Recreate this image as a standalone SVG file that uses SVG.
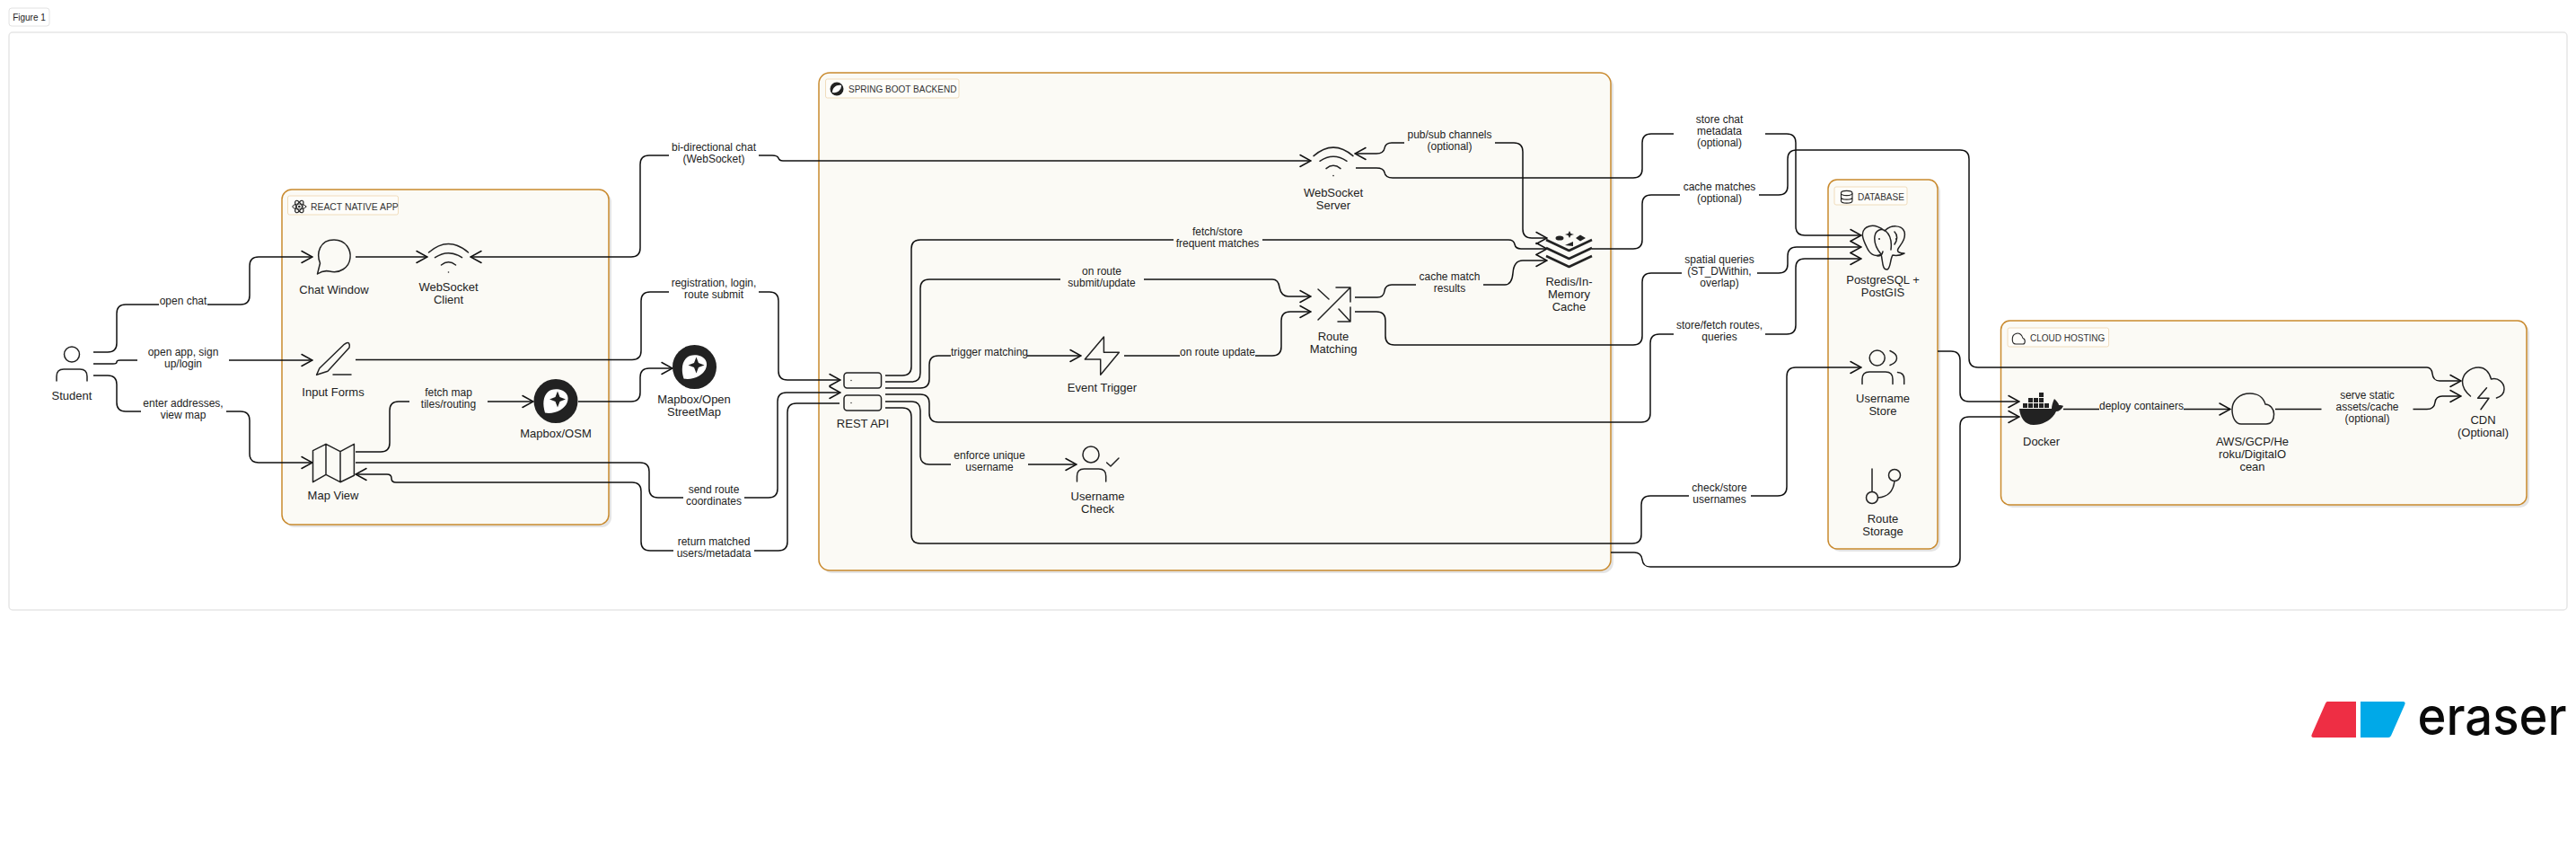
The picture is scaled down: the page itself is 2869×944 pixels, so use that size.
<svg xmlns="http://www.w3.org/2000/svg" width="2869" height="944" viewBox="0 0 2869 944">
<style>
text{font-family:"Liberation Sans",Arial,sans-serif;fill:#222}
.n{font-size:13px;text-anchor:middle}
.e{font-size:12px;text-anchor:middle}
.t{font-size:10px;fill:#333}
.grp{fill:#fbfaf5;stroke:#c98a2e;stroke-width:1.5}
.sh{fill:#e4e4e4}
.lab{fill:#fefdf9;stroke:#f0dcbc;stroke-width:1}
.c{fill:none;stroke:#111;stroke-width:1.5;marker-end:url(#arr)}
.i{fill:none;stroke:#222;stroke-width:1.5;stroke-linecap:round;stroke-linejoin:round}
.d{fill:#222;stroke:none}
</style>
<defs>
<marker id="arr" viewBox="-14 -8 15 16" refX="0" refY="0" markerWidth="15" markerHeight="16" markerUnits="userSpaceOnUse" orient="auto-start-reverse">
<path d="M-12 -6.5L0 0L-12 6.5" fill="none" stroke="#111" stroke-width="1.5" stroke-linecap="round"/>
</marker>
<g id="wifi"><path class="i" d="M-22 0Q0 -19 22 0M-15 5.700Q0 -4.300 15 5.700M-8 14Q0 7.400 8 14"/><circle class="d" cx="0" cy="22" r="0.8"/></g>
<g id="mapbox"><circle class="d" r="24.5"/><path d="M-12 13C-15 3 -14 -5 -9 -10C-4 -15 8 -14 12 -8C16 -2 12 6 5 10C0 13 -7 14 -12 13Z" fill="#fff"/><path class="d" d="M2 -11L4.5 -4.5L11 -2L4.5 .5L2 7L-.5 .5L-7 -2L-.5 -4.5Z"/></g>
</defs>
<rect width="2869" height="944" fill="#fff"/>
<g id="figure-label"><rect x="10" y="9" width="45" height="20" rx="3" fill="#fff" stroke="#e2e2e2"/><text x="32.5" y="22.5" style="font-size:10px;text-anchor:middle">Figure 1</text></g>
<rect id="frame" x="10" y="36" width="2849" height="643" rx="4" fill="#fff" stroke="#e6e6e6" stroke-width="1.5"/>

<g id="group-react"><rect class="sh" x="317" y="214" width="364" height="373" rx="11"/><rect class="grp" x="314" y="211" width="364" height="373" rx="11"/><rect class="lab" x="320.5" y="218" width="123" height="21" rx="2"/>
<g class="i"><ellipse cx="333.3" cy="230" rx="7.5" ry="3" style="stroke-width:1"/><ellipse cx="333.3" cy="230" rx="7.5" ry="3" transform="rotate(60 333.3 230)" style="stroke-width:1"/><ellipse cx="333.3" cy="230" rx="7.5" ry="3" transform="rotate(120 333.3 230)" style="stroke-width:1"/></g><circle class="d" cx="333.3" cy="230" r="1.3"/>
<text class="t" x="346" y="233.5" style="font-size:10.4px">REACT NATIVE APP</text></g>
<g id="group-spring"><rect class="sh" x="915" y="84" width="882" height="554" rx="12"/><rect class="grp" x="912" y="81" width="882" height="554" rx="12"/><rect class="lab" x="919.5" y="88" width="148.5" height="21" rx="2"/>
<circle class="d" cx="932" cy="99" r="7.5"/><path d="M927 103C927 97 932 94 937 95C937 100 933 104 927 103Z" fill="#fff"/>
<text class="t" x="945" y="102.5">SPRING BOOT BACKEND</text></g>
<g id="group-database"><rect class="sh" x="2039" y="203" width="122" height="411" rx="10"/><rect class="grp" x="2036" y="200" width="122" height="411" rx="10"/><rect class="lab" x="2043" y="208" width="81" height="20" rx="2"/>
<path class="i" style="stroke-width:1.1" d="M2050.5 215.5V223.5C2050.5 227 2063 227 2063 223.5V215.5M2050.5 219.5C2050.5 223 2063 223 2063 219.5"/><ellipse class="i" style="stroke-width:1.1" cx="2056.7" cy="215" rx="6.3" ry="2.6"/>
<text class="t" x="2069" y="222.5">DATABASE</text></g>
<g id="group-cloud"><rect class="sh" x="2231.5" y="360" width="585.5" height="205" rx="10"/><rect class="grp" x="2228.5" y="357" width="585.5" height="205" rx="10"/><rect class="lab" x="2236" y="365" width="112.6" height="21" rx="2"/>
<path class="i" style="stroke-width:1.1" d="M2245 383H2253C2256 383 2256 377 2253 376.500C2252 372 2248 370 2245 371.500C2240 373 2240 383 2245 383Z"/>
<text class="t" x="2261" y="379.5">CLOUD HOSTING</text></g>

<g id="connectors">
<path class="c" d="M104 392H120Q130 392 130 382V349Q130 339 140 339H177M231 339H268Q278 339 278 329V296Q278 286 288 286H348"/>
<path class="c" d="M104 405H126Q130 405 130 403Q130 401 134 401H153M255 401H348"/>
<path class="c" d="M104 418H120Q130 418 130 428V448Q130 458 140 458H157M252 458H268Q278 458 278 468V505Q278 515 288 515H348"/>
<path class="c" d="M396 286H476"/>
<path class="c" style="marker-start:url(#arr)" d="M524 286H703Q713 286 713 276V183Q713 173 723 173H745M845 173H860Q866 173 867 176Q868 179 872 179H1460"/>
<path class="c" d="M396 400.500H704Q714 400.500 714 390.500V335Q714 325 724 325H745M845 325H857Q867 325 867 335V413Q867 423 877 423H936"/>
<path class="c" d="M396 503H424Q434 503 434 493V457Q434 447 444 447H456M543 447H594"/>
<path class="c" d="M644 447H703Q713 447 713 437V420Q713 410 723 410H749"/>
<path class="c" d="M396 515H713Q723 515 723 525V544Q723 554 733 554H761M829 554H856Q866 554 866 544V447Q866 437 876 437H936"/>
<path class="c" d="M935 449H887Q877 449 877 459V603Q877 613 867 613H840M750 613H724Q714 613 714 603V547Q714 537 704 537H441Q436 537 436 532.500Q436 528 431 528H396"/>
<path class="c" d="M986 418H1005Q1015 418 1015 408V277Q1015 267 1025 267H1307M1406 267H1680Q1686 267 1687 272Q1688 277 1694 277H1723"/>
<path class="c" d="M986 425H1015Q1025 425 1025 415V321Q1025 311 1035 311H1181M1274 311H1417Q1424 311 1425 320Q1427 330 1435 330H1460"/>
<path class="c" d="M986 432H1025Q1035 432 1035 422V406Q1035 396 1045 396H1059M1144 396H1204"/>
<path class="c" d="M986 439H1025Q1035 439 1035 449V460Q1035 470 1045 470H1828Q1838 470 1838 460V382Q1838 372 1848 372H1864M1966 372H1990Q2000 372 2000 362V298Q2000 288 2010 288H2073"/>
<path class="c" d="M986 447H1015Q1025 447 1025 457V507Q1025 517 1035 517H1059M1145 517H1199"/>
<path class="c" d="M986 454H1005Q1015 454 1015 464V595Q1015 605 1025 605H1818Q1828 605 1828 595V562Q1828 552 1838 552H1881M1950 552H1980Q1990 552 1990 542V419Q1990 409 2000 409H2073"/>
<path class="c" d="M1252 396H1314M1398 396H1417Q1427 396 1427 386V357Q1427 347 1437 347H1460"/>
<path class="c" d="M1509 331H1534Q1541 331 1542 324Q1543 317 1550 317H1577M1652 317H1676Q1684 317 1685 304Q1686 290 1696 290H1723"/>
<path class="c" d="M1509 347H1533Q1543 347 1543 357V374Q1543 384 1553 384H1819Q1829 384 1829 374V314Q1829 304 1839 304H1873M1957 304H1981Q1991 304 1991 294V285Q1991 275 2001 275H2073"/>
<path class="c" style="marker-start:url(#arr)" d="M1509 171H1533Q1541 171 1542 165Q1543 159 1550 159H1564M1665 159H1686Q1696 159 1696 169V255Q1696 265 1706 265H1723"/>
<path class="c" d="M1510 187H1533Q1541 187 1542 192Q1543 198 1551 198H1819Q1829 198 1829 188V159Q1829 149 1839 149H1864M1966 149H1990Q2000 149 2000 159V252Q2000 262 2010 262H2073"/>
<path class="c" d="M1773 277H1819Q1829 277 1829 267V227Q1829 217 1839 217H1871M1959 217H1981Q1991 217 1991 207V177Q1991 167 2001 167H2183Q2193 167 2193 177V399Q2193 409 2203 409H2703Q2708 409 2709 416Q2710 424 2717 424H2741"/>
<path class="c" d="M2158 391H2173Q2183 391 2183 401V437Q2183 447 2193 447H2249"/>
<path class="c" d="M1794 615H1820Q1828 615 1829 623Q1830 631 1838 631H2173Q2183 631 2183 621V474Q2183 464 2193 464H2249"/>
<path class="c" d="M2298 455.500H2338M2432 455.500H2484"/>
<path class="c" d="M2534 455.500H2585.500M2687.500 455.500H2703Q2711 455.500 2712 448Q2713 441 2720 441H2741"/>
<g id="edge-labels">
<text class="e" x="204" y="339">open chat</text>
<text class="e" y="395.500"><tspan x="204">open app, sign</tspan><tspan x="204" dy="13">up/login</tspan></text>
<text class="e" y="452.500"><tspan x="204">enter addresses,</tspan><tspan x="204" dy="13">view map</tspan></text>
<text class="e" y="440.500"><tspan x="499.500">fetch map</tspan><tspan x="499.500" dy="13">tiles/routing</tspan></text>
<text class="e" y="167.500"><tspan x="795">bi-directional chat</tspan><tspan x="795" dy="13">(WebSocket)</tspan></text>
<text class="e" y="318.500"><tspan x="795">registration, login,</tspan><tspan x="795" dy="13">route submit</tspan></text>
<text class="e" y="548.500"><tspan x="795">send route</tspan><tspan x="795" dy="13">coordinates</tspan></text>
<text class="e" y="606.500"><tspan x="795">return matched</tspan><tspan x="795" dy="13">users/metadata</tspan></text>
<text class="e" y="261.500"><tspan x="1356">fetch/store</tspan><tspan x="1356" dy="13">frequent matches</tspan></text>
<text class="e" y="305.500"><tspan x="1227">on route</tspan><tspan x="1227" dy="13">submit/update</tspan></text>
<text class="e" x="1102" y="396">trigger matching</text>
<text class="e" y="510.500"><tspan x="1102">enforce unique</tspan><tspan x="1102" dy="13">username</tspan></text>
<text class="e" x="1356" y="396">on route update</text>
<text class="e" y="311.500"><tspan x="1614.500">cache match</tspan><tspan x="1614.500" dy="13">results</tspan></text>
<text class="e" y="153.500"><tspan x="1614.500">pub/sub channels</tspan><tspan x="1614.500" dy="13">(optional)</tspan></text>
<text class="e" y="136.500"><tspan x="1915">store chat</tspan><tspan x="1915" dy="13">metadata</tspan><tspan x="1915" dy="13">(optional)</tspan></text>
<text class="e" y="211.500"><tspan x="1915">cache matches</tspan><tspan x="1915" dy="13">(optional)</tspan></text>
<text class="e" y="292.500"><tspan x="1915">spatial queries</tspan><tspan x="1915" dy="13">(ST_DWithin,</tspan><tspan x="1915" dy="13">overlap)</tspan></text>
<text class="e" y="365.500"><tspan x="1915">store/fetch routes,</tspan><tspan x="1915" dy="13">queries</tspan></text>
<text class="e" y="546.500"><tspan x="1915">check/store</tspan><tspan x="1915" dy="13">usernames</tspan></text>
<text class="e" x="2385" y="456">deploy containers</text>
<text class="e" y="443.500"><tspan x="2636.500">serve static</tspan><tspan x="2636.500" dy="13">assets/cache</tspan><tspan x="2636.500" dy="13">(optional)</tspan></text>
</g>
</g>

<g id="student"><circle class="i" cx="80" cy="394.500" r="8.500"/><path class="i" d="M63 424V419Q63 411 71 411H89Q97 411 97 419V424"/><text class="n" x="80" y="444.500">Student</text></g>
<g id="chat-window"><path class="i" d="M353.500 305L356.500 293C352 282 356 267 372 267C386 267 391 279 390 287C389 298 378 305 367 302Q360 300.500 353.500 305Z"/><text class="n" x="372" y="327">Chat Window</text></g>
<g id="websocket-client"><use href="#wifi" x="499.500" y="281"/><text class="n" y="323.500"><tspan x="499.500">WebSocket</tspan><tspan x="499.500" dy="14">Client</tspan></text></g>
<g id="input-forms"><path class="i" d="M352.600 417.300L355.800 410L383.400 383.300Q387 380.500 388.500 382Q390 384 389 387L365 413.300ZM371 417H391"/><text class="n" x="371" y="440.500">Input Forms</text></g>
<g id="mapbox-osm"><use href="#mapbox" x="619" y="446.500"/><text class="n" x="619" y="486.500">Mapbox/OSM</text></g>
<g id="map-view"><path class="i" d="M348.500 501.700L363 494.300L379 502.700L394.400 494.300V529.300L379 536.700L363 528.300L348.500 536.700ZM363 494.300V528.300M379 502.700V536.700"/><text class="n" x="371" y="555.500">Map View</text></g>
<g id="mapbox-open"><use href="#mapbox" x="773.500" y="408.500"/><text class="n" y="448.500"><tspan x="773">Mapbox/Open</tspan><tspan x="773" dy="14">StreetMap</tspan></text></g>
<g id="rest-api"><rect class="i" x="940" y="415" width="41.500" height="17" rx="3.500"/><rect class="i" x="940" y="440" width="41.500" height="17" rx="3.500"/><circle class="d" cx="948" cy="423.500" r=".7"/><circle class="d" cx="948" cy="448.500" r=".7"/><text class="n" x="961" y="475.500">REST API</text></g>
<g id="event-trigger"><path class="i" d="M1229.400 375L1208.300 400H1225.700V417.300L1246.400 392.300H1229.400Z"/><text class="n" x="1227.500" y="435.500">Event Trigger</text></g>
<g id="username-check"><circle class="i" cx="1215" cy="506" r="9"/><path class="i" d="M1199.500 536V530Q1199.500 522 1207.500 522H1223.700Q1231.700 522 1231.700 530V536M1232.600 515L1237 519L1246 510"/><text class="n" y="556.500"><tspan x="1222.500">Username</tspan><tspan x="1222.500" dy="14">Check</tspan></text></g>
<g id="websocket-server"><use href="#wifi" x="1485" y="173.600"/><text class="n" y="218.500"><tspan x="1485">WebSocket</tspan><tspan x="1485" dy="14">Server</tspan></text></g>
<g id="route-matching"><path class="i" d="M1468 356L1504 320M1488 320H1504V336M1468 322L1480 333M1491 344L1504 358M1504 342V358H1490"/><text class="n" y="378.500"><tspan x="1485">Route</tspan><tspan x="1485" dy="14">Matching</tspan></text></g>
<g id="redis"><path class="i" style="stroke-width:2.500;stroke-linecap:butt" d="M1722 267L1747.500 279L1773 267M1722 276L1747.500 288L1773 276M1722 285L1747.500 297L1773 285"/><ellipse class="d" cx="1737" cy="265" rx="4.500" ry="2.600"/><path class="d" d="M1748 257L1749.500 260L1753 261L1749.500 262L1748 265L1746.500 262L1743 261L1746.500 260ZM1755 265L1760 261.500L1766 265L1760 268.500ZM1743 273L1752 269V274Z"/><text class="n" y="317.500"><tspan x="1747.500">Redis/In-</tspan><tspan x="1747.500" dy="14">Memory</tspan><tspan x="1747.500" dy="14">Cache</tspan></text></g>
<g id="postgres"><path class="i" d="M2096 283C2087 287 2082 282 2079 275C2075 267 2071 258 2079 253C2086 249 2094 253 2099 257C2106 250 2118 250 2121 258C2123 266 2117 272 2114 277C2112 281 2117 282 2121 282C2117 284 2112 285 2108 284C2105 288 2106 298 2102 300C2096 301 2097 290 2095 283C2090 277 2087 270 2088 263C2089 256 2095 254 2100 257C2106 262 2107 270 2106 278M2110 258C2114 262 2113 268 2110 272M2091 285Q2096 285 2097 280"/><circle class="d" cx="2093" cy="266" r="1"/><circle class="d" cx="2112" cy="266" r="1"/><text class="n" y="315.500"><tspan x="2097">PostgreSQL +</tspan><tspan x="2097" dy="14">PostGIS</tspan></text></g>
<g id="username-store"><circle class="i" cx="2090.700" cy="398.500" r="8.500"/><path class="i" d="M2105 390.500Q2113 394 2112.500 399Q2112 404 2105 406.500M2074 427.500V422Q2074 414 2082 414H2100Q2108 414 2108 422V427.500M2113.500 414.500Q2120.700 415 2120.700 422V427.500"/><text class="n" y="447.500"><tspan x="2097">Username</tspan><tspan x="2097" dy="14">Store</tspan></text></g>
<g id="route-storage"><circle class="i" cx="2085" cy="554" r="6.500"/><circle class="i" cx="2110" cy="529" r="6.500"/><path class="i" d="M2085 522V547.500M2091.500 554Q2108 553 2110 535.500"/><text class="n" y="581.500"><tspan x="2097">Route</tspan><tspan x="2097" dy="14">Storage</tspan></text></g>
<g id="docker"><path class="d" d="M2249 455H2285C2285 452 2286 448 2288 444C2291 447 2293 449 2293 451C2295 451 2297 451 2298 452C2296 456 2293 458 2290 458C2286 467 2276 473 2265 473C2255 473 2250 465 2249 455Z"/><path class="d" d="M2253 449h5v5h-5zM2259 449h5v5h-5zM2265 449h5v5h-5zM2271 449h5v5h-5zM2277 449h5v5h-5zM2259 443h5v5h-5zM2265 443h5v5h-5zM2271 443h5v5h-5zM2271 437h5v5h-5z"/><text class="n" x="2273.600" y="495.500">Docker</text></g>
<g id="cloud-provider"><path class="i" d="M2496 472H2524C2530 472 2532.600 467 2532.600 461C2532.600 455 2528 450 2523 450C2521 443 2515 438 2506 438C2494 438 2486 446 2486 456C2486 465 2490 472 2496 472Z"/><text class="n" y="495.500"><tspan x="2508.500">AWS/GCP/He</tspan><tspan x="2508.500" dy="14">roku/DigitalO</tspan><tspan x="2508.500" dy="14">cean</tspan></text></g>
<g id="cdn"><path class="i" d="M2751.500 441C2745.500 436 2742.500 431 2742.500 425C2742.500 416 2751.500 409 2760.500 409C2768.500 409 2772.500 415 2774.500 422C2782.500 420 2789 426 2789 433C2789 437 2786.500 441 2780.500 443M2769.500 431.700L2759.600 443.300H2772L2763 455.700"/><text class="n" y="472"><tspan x="2765.500">CDN</tspan><tspan x="2765.500" dy="14">(Optional)</tspan></text></g>
<g id="eraser-logo"><path d="M2592 781H2624V821H2577Q2573 821 2575 817L2590 783Q2591 781 2592 781Z" fill="#ee2e44"/><path d="M2629 781H2676Q2680 781 2678 785L2663 819Q2662 821 2660 821H2629Z" fill="#00a9e8"/><text x="2692.500" y="818" textLength="166" lengthAdjust="spacingAndGlyphs" style="font-family:Inter,'Liberation Sans',sans-serif;font-size:58px;font-weight:500;fill:#0a0a0a">eraser</text></g>
</svg>
